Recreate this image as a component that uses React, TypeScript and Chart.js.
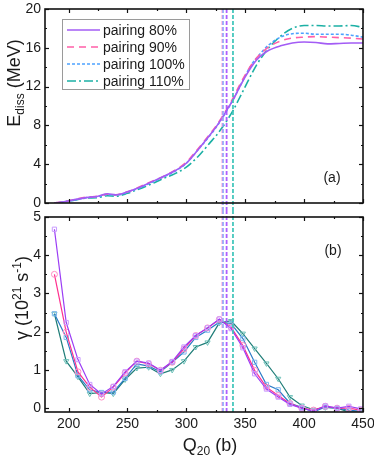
import React, { useEffect, useRef } from 'react';
import { Chart, registerables } from 'chart.js';
Chart.register(...registerables);

// ---------- data ----------
const seriesLabels = ['pairing 80%', 'pairing 90%', 'pairing 100%', 'pairing 110%'];

const qDiss = [188, 195, 205, 215, 225, 233, 240, 250, 260, 270, 280, 290, 300, 310, 320, 325, 330, 335, 340, 345, 350, 355, 360, 365, 370, 380, 390, 400, 410, 420, 430, 440, 450];
const eDiss80 = [0, 0.1, 0.35, 0.55, 0.7, 0.95, 0.85, 1.15, 1.6, 2.15, 2.7, 3.3, 4.1, 5.5, 7.0, 7.8, 8.7, 9.7, 10.7, 11.9, 13.0, 14.0, 14.8, 15.35, 15.75, 16.2, 16.5, 16.6, 16.55, 16.4, 16.45, 16.5, 16.5];
const eDiss90 = [0, 0.12, 0.35, 0.6, 0.7, 0.9, 0.85, 1.15, 1.65, 2.2, 2.7, 3.35, 4.2, 5.6, 7.1, 7.9, 8.8, 9.8, 10.9, 12.1, 13.2, 14.2, 15.0, 15.6, 16.1, 16.7, 17.0, 17.1, 17.15, 17.1, 17.05, 17.0, 16.9];
const eDiss100 = [0, 0.1, 0.3, 0.55, 0.65, 0.85, 0.8, 1.1, 1.55, 2.1, 2.65, 3.25, 4.1, 5.5, 6.95, 7.75, 8.65, 9.65, 10.7, 11.9, 13.1, 14.2, 15.0, 15.7, 16.3, 17.1, 17.45, 17.5, 17.4, 17.4, 17.4, 17.3, 17.1];
const eDiss110 = [0, 0.08, 0.3, 0.5, 0.55, 0.75, 0.7, 1.0, 1.45, 1.95, 2.5, 3.0, 3.7, 4.8, 6.2, 6.9, 7.7, 8.6, 9.6, 10.8, 12.0, 13.2, 14.3, 15.2, 16.0, 17.2, 18.0, 18.3, 18.3, 18.25, 18.25, 18.3, 18.1];

const qRate = [188, 198, 208, 218, 228, 238, 248, 258, 268, 278, 288, 298, 308, 318, 328, 338, 348, 358, 368, 378, 388, 398, 408, 418, 428, 438, 448];
const rate80 = [4.68, 2.24, 1.27, 0.62, 0.37, 0.57, 0.95, 1.23, 1.18, 0.99, 1.22, 1.6, 1.9, 2.1, 2.33, 2.08, 1.58, 0.9, 0.5, 0.29, 0.1, 0.0, -0.08, 0.06, 0.0, 0.05, -0.02];
const rate90 = [3.5, 1.99, 0.95, 0.55, 0.29, 0.55, 0.92, 1.23, 1.16, 0.99, 1.2, 1.55, 1.9, 2.1, 2.32, 2.12, 1.64, 0.99, 0.55, 0.33, 0.12, 0.0, -0.05, 0.05, 0.0, 0.0, -0.05];
const rate100 = [2.47, 1.85, 0.85, 0.48, 0.41, 0.42, 0.78, 1.16, 1.1, 0.95, 1.2, 1.47, 1.85, 2.04, 2.25, 2.21, 1.82, 1.2, 0.62, 0.48, 0.13, 0.02, -0.1, 0.03, 0.0, -0.05, -0.08];
const rate110 = [2.47, 1.23, 0.82, 0.38, 0.41, 0.38, 0.75, 1.05, 1.07, 0.9, 1.0, 1.23, 1.6, 1.72, 2.23, 2.28, 1.95, 1.56, 1.17, 0.77, 0.29, 0.07, -0.04, 0.02, 0.0, -0.1, -0.1];

// scission points (Q20) for 80%, 90%, 100%, 110%
const scissionQ = [334.2, 330.6, 331.2, 339.6];

const xMajor = [200, 250, 300, 350, 400, 450];
const xMinor = [225, 275, 325, 375, 425];
const eMajor = [0, 4, 8, 12, 16, 20];
const eMinor = [2, 6, 10, 14, 18];
const rMajor = [0, 1, 2, 3, 4, 5];
const rMinor = [0.5, 1.5, 2.5, 3.5, 4.5];

// ---------- styles ----------
const FONT = "'Liberation Sans', Arial, sans-serif";
const topColors = ['#a35cf5', '#ff5fa8', '#4ea2ff', '#1cb0a5'];
const topDash = [[], [7, 5], [3, 2], [9, 3, 2, 3]];
const lineColors = ['#9b3df5', '#ff2f8e', '#2b7bc8', '#1f7d78'];
const markColors = ['#c99aff', '#ff8cc4', '#7fb8ee', '#6cc0b8'];
const markStyles = ['rect', 'circle', 'rect', 'triangle'];
const markRot = [0, 0, 0, 180];
const vColors = ['rgba(166,77,255,0.9)', 'rgba(255,130,200,0.75)', 'rgba(120,170,255,0.75)', 'rgba(60,196,184,0.95)'];

const zeroPad = (s: any) => {
  s.paddingTop = 0; s.paddingBottom = 0; s.paddingLeft = 0; s.paddingRight = 0;
};

function framePlugin(yMajor: number[], yMinor: number[]) {
  return {
    id: 'frameTicks',
    afterDraw(chart: any) {
      const { ctx, chartArea: a, scales } = chart;
      const x = scales.x, y = scales.y;
      ctx.save();
      ctx.strokeStyle = '#111';
      ctx.lineWidth = 1.2;
      const seg = (x1: number, y1: number, x2: number, y2: number) => {
        ctx.beginPath(); ctx.moveTo(x1, y1); ctx.lineTo(x2, y2); ctx.stroke();
      };
      const xt = (v: number, len: number) => {
        const p = Math.round(x.getPixelForValue(v)) + 0.5;
        seg(p, a.bottom, p, a.bottom - len);
        seg(p, a.top, p, a.top + len);
      };
      const yt = (v: number, len: number) => {
        const p = Math.round(y.getPixelForValue(v)) + 0.5;
        seg(a.left, p, a.left + len, p);
        seg(a.right, p, a.right - len, p);
      };
      xMajor.forEach((v) => xt(v, 4));
      xMinor.forEach((v) => xt(v, 2));
      yMajor.forEach((v) => yt(v, 4));
      yMinor.forEach((v) => yt(v, 2));
      ctx.lineWidth = 1.6;
      ctx.strokeRect(a.left, a.top, a.right - a.left, a.bottom - a.top);
      ctx.restore();
    },
  };
}

function vlinePlugin(isTop: boolean) {
  return {
    id: 'vlines',
    afterDatasetsDraw(chart: any) {
      const { ctx, chartArea: a, scales } = chart;
      ctx.save();
      ctx.lineWidth = 1.8;
      ctx.setLineDash([4, 2]);
      [1, 2, 0, 3].forEach((i) => {
        const px = scales.x.getPixelForValue(scissionQ[i]);
        ctx.strokeStyle = vColors[i];
        ctx.beginPath();
        if (isTop) { ctx.moveTo(px, a.top); ctx.lineTo(px, chart.height); }
        else { ctx.moveTo(px, 0); ctx.lineTo(px, a.bottom); }
        ctx.stroke();
      });
      ctx.restore();
    },
  };
}

const legendPlugin = {
  id: 'boxLegend',
  afterDraw(chart: any) {
    const { ctx, chartArea: a } = chart;
    const left = a.left + 17, top = a.top + 10, w = 127, h = 70;
    ctx.save();
    ctx.fillStyle = '#fff';
    ctx.fillRect(left, top, w, h);
    ctx.strokeStyle = '#9a9a9a';
    ctx.lineWidth = 1;
    ctx.strokeRect(left + 0.5, top + 0.5, w, h);
    chart.data.datasets.forEach((ds: any, i: number) => {
      const yy = top + 11 + i * 17;
      ctx.strokeStyle = ds.borderColor;
      ctx.lineWidth = ds.borderWidth;
      ctx.setLineDash(ds.borderDash || []);
      ctx.beginPath(); ctx.moveTo(left + 5, yy); ctx.lineTo(left + 38, yy); ctx.stroke();
      ctx.setLineDash([]);
      ctx.fillStyle = '#1a1a1a';
      ctx.font = `14px ${FONT}`;
      ctx.textBaseline = 'middle';
      ctx.textAlign = 'left';
      ctx.fillText(ds.label, left + 41, yy + 1);
    });
    ctx.restore();
  },
};

export default function App() {
  const topRef = useRef<HTMLCanvasElement>(null);
  const botRef = useRef<HTMLCanvasElement>(null);

  useEffect(() => {
    Chart.defaults.font.family = FONT;
    const tickFont = { family: FONT, size: 14 };
    const eSeries = [eDiss80, eDiss90, eDiss100, eDiss110];
    const rSeries = [rate80, rate90, rate100, rate110];

    const top = new Chart(topRef.current!, {
      type: 'line',
      data: {
        datasets: eSeries.map((arr, i) => ({
          label: seriesLabels[i],
          data: qDiss.map((q, k) => ({ x: q, y: arr[k] })),
          borderColor: topColors[i],
          borderDash: topDash[i],
          borderWidth: 1.6,
          pointRadius: 0,
          fill: false,
          cubicInterpolationMode: 'monotone' as const,
        })),
      },
      options: {
        responsive: false,
        animation: false,
        devicePixelRatio: 1,
        layout: { padding: { top: 9, right: 11, left: 0, bottom: 0 } },
        plugins: { legend: { display: false }, tooltip: { enabled: false } },
        scales: {
          x: {
            type: 'linear', min: 180, max: 450,
            grid: { display: false, drawTicks: false }, border: { display: false },
            ticks: { display: false },
            afterFit: (s: any) => { s.height = 7; zeroPad(s); },
          },
          y: {
            min: 0, max: 20,
            grid: { display: false, drawTicks: false }, border: { display: false },
            ticks: { font: tickFont, color: '#1a1a1a', padding: 4 },
            afterBuildTicks: (s: any) => { s.ticks = eMajor.map((v) => ({ value: v })); },
            afterFit: (s: any) => { s.width = 45; zeroPad(s); },
          },
        },
      },
      plugins: [vlinePlugin(true), framePlugin(eMajor, eMinor), legendPlugin],
    } as any);

    const bot = new Chart(botRef.current!, {
      type: 'line',
      data: {
        datasets: rSeries.map((arr, i) => ({
          label: seriesLabels[i],
          data: qRate.map((q, k) => ({ x: q, y: arr[k] })),
          borderColor: lineColors[i],
          borderWidth: 1.2,
          pointStyle: markStyles[i],
          rotation: markRot[i],
          pointRadius: 3,
          pointBorderWidth: 1,
          pointBorderColor: markColors[i],
          pointBackgroundColor: 'rgba(255,255,255,0)',
          tension: 0,
          fill: false,
        })),
      },
      options: {
        responsive: false,
        animation: false,
        devicePixelRatio: 1,
        layout: { padding: { top: 7, right: 11, left: 0, bottom: 0 } },
        plugins: { legend: { display: false }, tooltip: { enabled: false } },
        scales: {
          x: {
            type: 'linear', min: 180, max: 450,
            grid: { display: false, drawTicks: false }, border: { display: false },
            ticks: { font: tickFont, color: '#1a1a1a', padding: 4, maxRotation: 0 },
            afterBuildTicks: (s: any) => { s.ticks = xMajor.map((v) => ({ value: v })); },
            afterFit: (s: any) => { s.height = 51; zeroPad(s); },
          },
          y: {
            min: -0.1, max: 5,
            grid: { display: false, drawTicks: false }, border: { display: false },
            ticks: { font: tickFont, color: '#1a1a1a', padding: 4 },
            afterBuildTicks: (s: any) => { s.ticks = rMajor.map((v) => ({ value: v })); },
            afterFit: (s: any) => { s.width = 45; zeroPad(s); },
          },
        },
      },
      plugins: [vlinePlugin(false), framePlugin(rMajor, rMinor)],
    } as any);

    return () => { top.destroy(); bot.destroy(); };
  }, []);

  const abs = (l: number, t: number): React.CSSProperties => ({ position: 'absolute', left: l, top: t });
  const title: React.CSSProperties = { fontSize: 18, color: '#1a1a1a', whiteSpace: 'nowrap', lineHeight: 1 };
  const subSt: React.CSSProperties = { fontSize: 12, verticalAlign: 'baseline', position: 'relative', top: 4 };
  const supSt: React.CSSProperties = { fontSize: 12, verticalAlign: 'baseline', position: 'relative', top: -7 };

  return (
    <div style={{ position: 'absolute', left: 0, top: 0, width: 374, height: 463, background: '#fff', fontFamily: FONT, overflow: 'hidden' }}>
      <canvas ref={topRef} width={374} height={210} style={{ ...abs(0, 0), width: 374, height: 210 }} />
      <canvas ref={botRef} width={374} height={253} style={{ ...abs(0, 210), width: 374, height: 253 }} />
      <div style={{ ...abs(14, 83), ...title, transform: 'translate(-50%, -50%) rotate(-90deg)' }}>
        E<span style={subSt}>diss</span> (MeV)
      </div>
      <div style={{ ...abs(22, 298), ...title, transform: 'translate(-50%, -50%) rotate(-90deg)' }}>
        γ (10<span style={supSt}>21</span> s<span style={supSt}>-1</span>)
      </div>
      <div style={{ ...abs(210, 445), ...title, transform: 'translate(-50%, -50%)' }}>
        Q<span style={subSt}>20</span> (b)
      </div>
      <div style={{ ...abs(332, 177), fontSize: 14, color: '#1a1a1a', transform: 'translate(-50%, -50%)' }}>(a)</div>
      <div style={{ ...abs(333, 250), fontSize: 14, color: '#1a1a1a', transform: 'translate(-50%, -50%)' }}>(b)</div>
    </div>
  );
}
